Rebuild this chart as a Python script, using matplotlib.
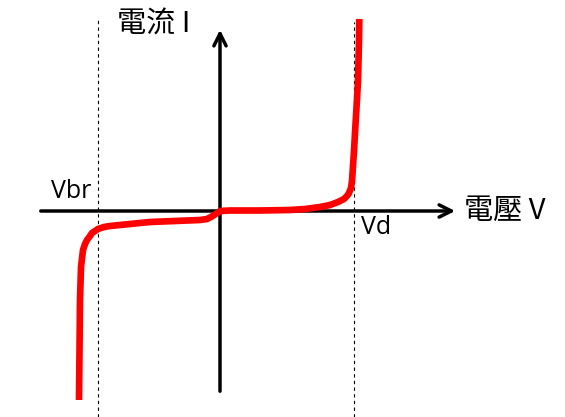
import matplotlib
matplotlib.use("Agg")
import matplotlib.pyplot as plt

plt.rcParams['font.family'] = ['Noto Sans CJK TC', 'DejaVu Sans']

# I-V curve of a diode (coordinates relative to the origin, pixel-like units)
curva_x = [-141, -140.5, -140, -139, -137, -135, -133, -130, -128, -125, -122, -116, -110,
           -90, -70, -45, -20, -13, -9, -5, -2, 0,
           10, 40, 70, 85, 100, 110, 118, 124, 127, 129, 131, 132, 133, 134, 135, 136,
           137, 138, 138.5, 139, 139.3]
curva_y = [-189, -140, -89, -56, -39, -33, -29, -25, -22, -20, -18, -16, -15,
           -13, -11, -10, -9, -8, -6, -3.5, -1.5, 0,
           0.5, 0.5, 1, 2, 4, 6, 9, 12, 15, 18, 23, 30, 45, 60, 78, 95,
           112, 130, 150, 170, 192]

# voltajes característicos
v_br = -122
v_d = 134
etiquetas = {"Vbr": "Vbr", "Vd": "Vd", "x": "電壓 V", "y": "電流 I"}

fig = plt.figure(figsize=(5.65, 4.17), dpi=100)
ax = fig.add_axes([0, 0, 1, 1])
ax.set_xlim(-220, 345)
ax.set_ylim(-206, 211)
ax.axis('off')

# ejes con flechas
ax.annotate('', xy=(238, 0), xytext=(-182, 0),
            arrowprops=dict(arrowstyle='->', lw=2.5, color='black', mutation_scale=22))
ax.annotate('', xy=(0, 184), xytext=(0, -183),
            arrowprops=dict(arrowstyle='->', lw=2.5, color='black', mutation_scale=22))

# líneas punteadas
ax.plot([v_br, v_br], [-206, 191], ls=(0, (3, 3)), color='black', lw=0.8)
ax.plot([v_d, v_d], [-206, 189], ls=(0, (3, 3)), color='black', lw=0.8)

# curva
ax.plot(curva_x, curva_y, color='red', lw=4.8, solid_capstyle='butt',
        solid_joinstyle='round', zorder=5)

# textos
ax.text(-149, 19, etiquetas["Vbr"], fontsize=18, ha='center', va='center', family='Open Sans')
ax.text(156, -17, etiquetas["Vd"], fontsize=18, ha='center', va='center', family='Open Sans')
ax.text(285, 0, etiquetas["x"], fontsize=21, ha='center', va='center')
ax.text(-66, 186, etiquetas["y"], fontsize=21, ha='center', va='center')

fig.savefig("out.png", dpi=100)
